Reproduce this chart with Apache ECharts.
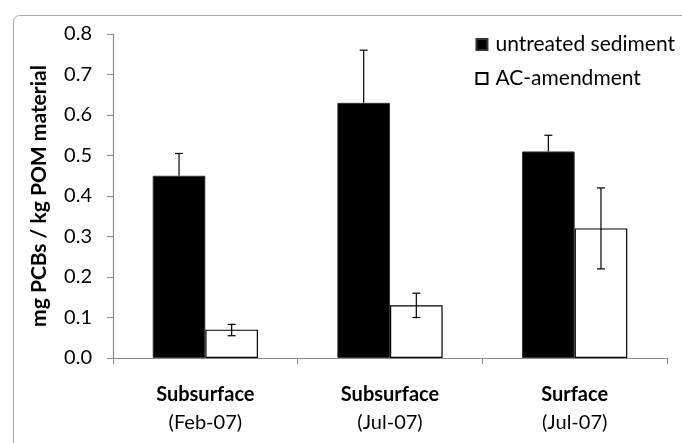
<!DOCTYPE html>
<html><head><meta charset="utf-8">
<script src="https://cdn.jsdelivr.net/npm/echarts@6/dist/echarts.min.js"></script>
<style>html,body{margin:0;padding:0;background:#fff}#c{width:682px;height:443px}</style>
</head><body><div id="c"></div>
<script>
const categories = ['Subsurface\n(Feb-07)', 'Subsurface\n(Jul-07)', 'Surface\n(Jul-07)'];
const untreated = [0.45, 0.63, 0.51];
const untreatedHigh = [0.505, 0.76, 0.55];
const acAmend = [0.07, 0.13, 0.32];
const acLow = [0.055, 0.10, 0.22];
const acHigh = [0.083, 0.16, 0.42];
const yTicks = ['0.0','0.1','0.2','0.3','0.4','0.5','0.6','0.7','0.8'];

const FONT = 'Lato';
const GAP = 0.43;
const chart = echarts.init(document.getElementById('c'));

function errItem(side, lowArr, highArr, both) {
  return function (params, api) {
    const i = params.dataIndex;
    const band = api.size([1, 0])[0];
    const bw = band * (1 - GAP) / 2;
    const cx = api.coord([i, 0])[0] + side * bw / 2;
    const yHi = api.coord([i, highArr[i]])[1];
    const yLo = api.coord([i, lowArr[i]])[1];
    const cap = 4;
    const st = { stroke: '#000', lineWidth: 1.2 };
    const ch = [
      { type: 'line', shape: { x1: cx, y1: yLo, x2: cx, y2: yHi }, style: st },
      { type: 'line', shape: { x1: cx - cap, y1: yHi, x2: cx + cap, y2: yHi }, style: st }
    ];
    if (both) ch.push({ type: 'line', shape: { x1: cx - cap, y1: yLo, x2: cx + cap, y2: yLo }, style: st });
    return { type: 'group', children: ch };
  };
}

chart.setOption({
  animation: false,
  textStyle: { fontFamily: FONT },
  graphic: [{
    type: 'rect', left: 11, top: 13, z: -1,
    shape: { width: 720, height: 500, r: 6 },
    style: { fill: 'none', stroke: '#a8a8a8', lineWidth: 1 }
  }],
  grid: { left: 113, right: 15, top: 34, bottom: 85 },
  legend: {
    orient: 'vertical', right: 2, top: 29,
    itemWidth: 11, itemHeight: 11, itemGap: 13,
    textStyle: { fontFamily: FONT, fontSize: 21, color: '#000', padding: [0, 0, 0, 3] },
    data: [
      { name: 'untreated sediment', icon: 'rect' },
      { name: 'AC-amendment', icon: 'rect' }
    ]
  },
  xAxis: {
    type: 'category', data: categories,
    axisLine: { lineStyle: { color: '#8c8c8c', width: 1.2 } },
    axisTick: { show: true, length: 6, lineStyle: { color: '#8c8c8c' } },
    axisLabel: {
      margin: 23, interval: 0, lineHeight: 28,
      formatter: function (v) { const p = v.split('\n'); return '{b|' + p[0] + '}\n{n|' + p[1] + '}'; },
      rich: {
        b: { fontFamily: FONT, fontWeight: 'bold', fontSize: 20, color: '#000', lineHeight: 28 },
        n: { fontFamily: FONT, fontSize: 20, color: '#000', lineHeight: 28 }
      }
    }
  },
  yAxis: {
    type: 'value', min: 0, max: 0.8, interval: 0.1,
    name: 'mg PCBs / kg POM material', nameLocation: 'middle', nameGap: 63,
    nameTextStyle: { fontFamily: FONT, fontWeight: 'bold', fontSize: 21, color: '#000' },
    splitLine: { show: false },
    axisLine: { show: true, lineStyle: { color: '#8c8c8c', width: 1.2 } },
    axisTick: { show: true, length: 6, lineStyle: { color: '#8c8c8c' } },
    axisLabel: {
      margin: 21, fontFamily: FONT, fontSize: 20, color: '#000',
      formatter: function (v) { return yTicks[Math.round(v * 10)]; }
    }
  },
  series: [
    { name: 'untreated sediment', type: 'bar', data: untreated, barGap: '0%', barCategoryGap: '43%',
      itemStyle: { color: '#000', borderColor: '#333', borderWidth: 1 } },
    { name: 'AC-amendment', type: 'bar', data: acAmend, barGap: '0%', barCategoryGap: '43%',
      itemStyle: { color: '#fff', borderColor: '#000', borderWidth: 1.2 } },
    { type: 'custom', data: untreated, z: 5, renderItem: errItem(-1, untreated, untreatedHigh, false) },
    { type: 'custom', data: acAmend, z: 5, renderItem: errItem(1, acLow, acHigh, true) }
  ]
});
</script></body></html>
